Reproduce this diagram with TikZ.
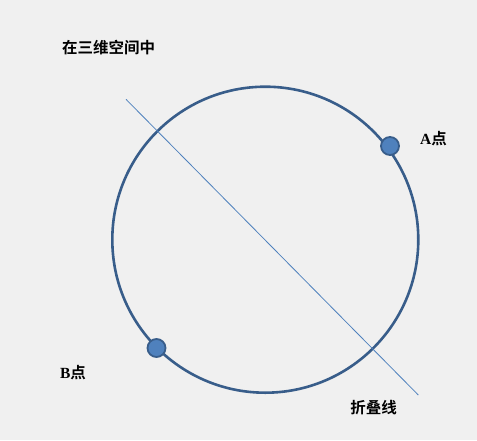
\documentclass[tikz,border=0pt]{standalone}
\usepackage{fontspec}
\setmainfont{Liberation Serif}
\newfontfamily\cjk{Noto Sans CJK SC}[BoldFont={* Bold}]
\definecolor{bgc}{RGB}{240,240,240}
\definecolor{darkblue}{RGB}{56,93,138}
\definecolor{midblue}{RGB}{79,129,189}
\tikzset{
  lbl/.style={font=\fontsize{15.5}{17}\selectfont\bfseries, text=black, inner sep=0pt},
  ring/.style={draw=darkblue, line width=2.6pt},
  fold/.style={draw=midblue, line width=0.8pt},
  dot/.style={circle, fill=midblue, draw=darkblue, line width=1.8pt, minimum size=18pt, inner sep=0pt}
}
\begin{document}
\begin{tikzpicture}[x=1pt,y=-1pt]
\fill[bgc] (0,0) rectangle (477,440);
\useasboundingbox (0,0) rectangle (477,440);
\node[circle, ring, minimum size=306pt, inner sep=0pt] (ring) at (265.3,239.7) {};
\coordinate (f1) at (126,99.3);
\coordinate (f2) at (418.3,395);
\draw[fold] (f1) -- (f2);
\node[dot] (A) at (390,146) {};
\node[dot] (B) at (156.5,348) {};
\node[lbl] (title) at (108.5,48) {\cjk\bfseries 在三维空间中};
\node[lbl] (la) at (433.5,139) {A{\cjk\bfseries 点}};
\node[lbl] (lb) at (73,373) {B{\cjk\bfseries 点}};
\node[lbl] (lf) at (373.5,408) {\cjk\bfseries 折叠线};
\end{tikzpicture}
\end{document}
